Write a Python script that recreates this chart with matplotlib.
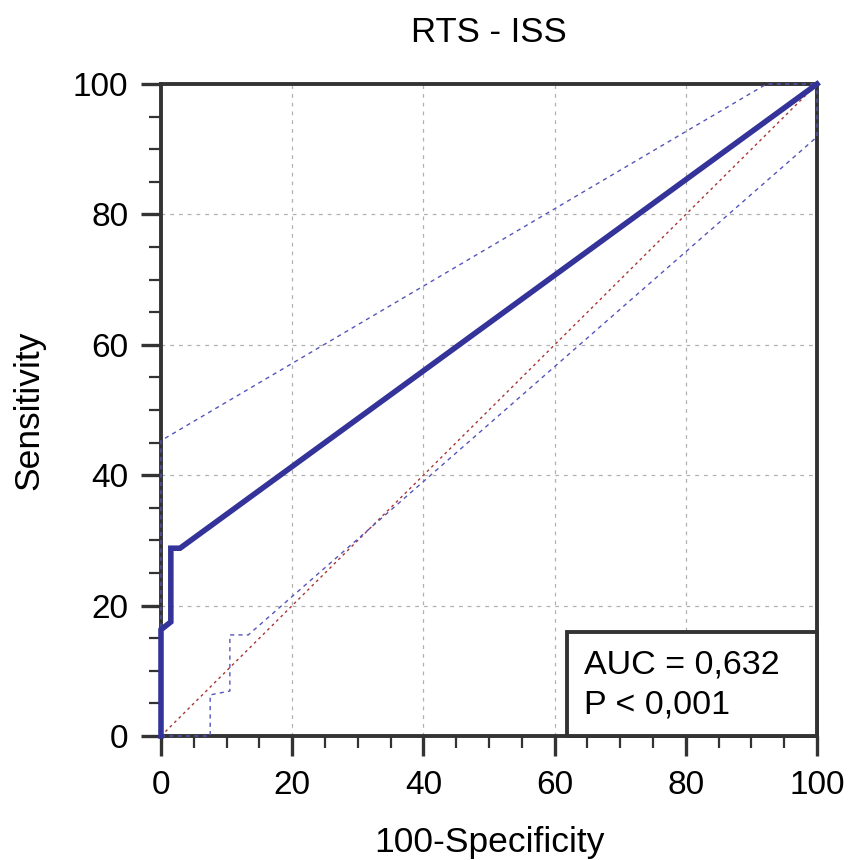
import numpy as np
import matplotlib.pyplot as plt
from matplotlib.patches import Rectangle
from matplotlib.ticker import MultipleLocator

# ROC curve RTS vs ISS, with 95% confidence bounds
plt.rcParams["font.family"] = ["Liberation Sans", "DejaVu Sans"]

roc_x = [0, 0, 1.5, 1.5, 2.9, 100]
roc_y = [0, 16.3, 17.5, 28.8, 28.8, 100]

upper_x = [0, 0, 92.3, 100]
upper_y = [0, 45.3, 100, 100]

lower_x = [0, 7.5, 7.5, 10.5, 10.5, 13.3, 100, 100]
lower_y = [0, 0, 6.3, 6.9, 15.5, 15.5, 91.9, 100]

diag = [0, 100]

auc_text = "AUC = 0,632\nP < 0,001"
title = "RTS - ISS"
xlabel = "100-Specificity"
ylabel = "Sensitivity"

SPINE = "#333333"
ROC_COL = "#333399"
BAND_COL = "#5555bb"
DIAG_COL = "#aa3333"


def main():
    fig = plt.figure(figsize=(8.5, 8.6), dpi=100)
    ax = fig.add_axes([0.1894, 0.1442, 0.7718, 0.7581])

    ax.set_xlim(0, 100)
    ax.set_ylim(0, 100)

    ax.xaxis.set_major_locator(MultipleLocator(20))
    ax.yaxis.set_major_locator(MultipleLocator(20))
    ax.xaxis.set_minor_locator(MultipleLocator(5))
    ax.yaxis.set_minor_locator(MultipleLocator(5))

    ax.grid(True, which="major", color="#b0b0b0", linestyle=(0, (3, 4)), linewidth=0.9)
    ax.set_axisbelow(True)

    for s in ax.spines.values():
        s.set_color(SPINE)
        s.set_linewidth(2.8)

    ax.tick_params(which="major", direction="out", length=14.5, width=2.4,
                   color=SPINE, labelsize=24, pad=9)
    ax.tick_params(which="minor", direction="out", length=8.5, width=1.6,
                   color=SPINE)
    ax.tick_params(axis="x", which="major", pad=10)

    ax.plot(diag, diag, color=DIAG_COL, linestyle=(0, (2, 2.5)), linewidth=1.0,
            zorder=3)
    ax.plot(upper_x, upper_y, color=BAND_COL, linestyle=(0, (3, 3)),
            linewidth=1.0, zorder=3, clip_on=False)
    ax.plot(lower_x, lower_y, color=BAND_COL, linestyle=(0, (3, 3)),
            linewidth=1.0, zorder=3, clip_on=False)
    ax.plot(roc_x, roc_y, color=ROC_COL, linewidth=4.0, zorder=4,
            solid_joinstyle="miter", clip_on=False)

    box = Rectangle((61.9, 0), 38.1, 16, facecolor="white", edgecolor=SPINE,
                    linewidth=2.8, zorder=5, clip_on=False)
    ax.add_patch(box)
    ax.text(64.5, 7.8, auc_text, fontsize=24.5, va="center", ha="left",
            linespacing=1.35, zorder=6)

    ax.set_title(title, fontsize=25, pad=30)
    ax.set_xlabel(xlabel, fontsize=25.5, labelpad=18)
    ax.set_ylabel(ylabel, fontsize=25.5, labelpad=20)

    fig.savefig("out.png", dpi=100)


if __name__ == "__main__":
    main()
